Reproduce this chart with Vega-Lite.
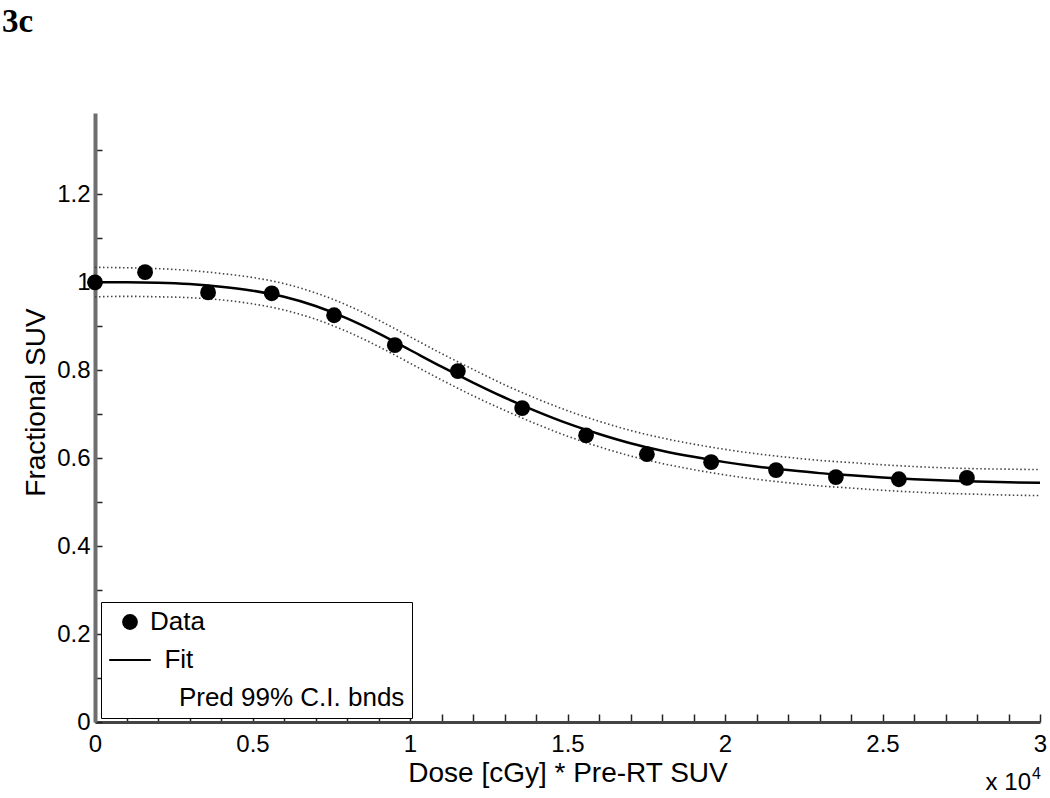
{
  "$schema": "https://vega.github.io/schema/vega-lite/v6.json",
  "width": 945,
  "height": 609,
  "autosize": {"type": "none"},
  "padding": {"left": 95, "top": 113, "right": 10, "bottom": 76},
  "background": "white",
  "config": {"view": {"stroke": null}, "font": "Liberation Sans", "axis": {"labelOverlap": false}},
  "title": {"text": "3c", "font": "Liberation Serif", "fontSize": 33, "fontWeight": "bold", "color": "black", "anchor": "start", "frame": "group", "dx": -93, "offset": 48, "baseline": "alphabetic"},
  "datasets": {
    "points": [
      {"series": "Data", "dose": 0, "suv": 1.0},
      {"series": "Data", "dose": 1590, "suv": 1.023},
      {"series": "Data", "dose": 3590, "suv": 0.977},
      {"series": "Data", "dose": 5610, "suv": 0.975},
      {"series": "Data", "dose": 7590, "suv": 0.925},
      {"series": "Data", "dose": 9520, "suv": 0.857},
      {"series": "Data", "dose": 11520, "suv": 0.798},
      {"series": "Data", "dose": 13560, "suv": 0.714},
      {"series": "Data", "dose": 15590, "suv": 0.652},
      {"series": "Data", "dose": 17520, "suv": 0.609},
      {"series": "Data", "dose": 19560, "suv": 0.591},
      {"series": "Data", "dose": 21620, "suv": 0.573},
      {"series": "Data", "dose": 23520, "suv": 0.557},
      {"series": "Data", "dose": 25520, "suv": 0.552},
      {"series": "Data", "dose": 27680, "suv": 0.555}
    ],
    "curves": [
      {"dose": 0, "fit": 1.000, "upper": 1.034, "lower": 0.967},
      {"dose": 1000, "fit": 1.000, "upper": 1.033, "lower": 0.968},
      {"dose": 2000, "fit": 0.999, "upper": 1.031, "lower": 0.967},
      {"dose": 3000, "fit": 0.996, "upper": 1.027, "lower": 0.965},
      {"dose": 4000, "fit": 0.990, "upper": 1.020, "lower": 0.960},
      {"dose": 5000, "fit": 0.981, "upper": 1.011, "lower": 0.951},
      {"dose": 6000, "fit": 0.967, "upper": 0.997, "lower": 0.937},
      {"dose": 7000, "fit": 0.946, "upper": 0.976, "lower": 0.916},
      {"dose": 8000, "fit": 0.918, "upper": 0.948, "lower": 0.888},
      {"dose": 9000, "fit": 0.884, "upper": 0.914, "lower": 0.854},
      {"dose": 10000, "fit": 0.846, "upper": 0.876, "lower": 0.816},
      {"dose": 11000, "fit": 0.808, "upper": 0.838, "lower": 0.778},
      {"dose": 12000, "fit": 0.772, "upper": 0.802, "lower": 0.742},
      {"dose": 13000, "fit": 0.738, "upper": 0.767, "lower": 0.709},
      {"dose": 14000, "fit": 0.707, "upper": 0.736, "lower": 0.678},
      {"dose": 15000, "fit": 0.679, "upper": 0.708, "lower": 0.650},
      {"dose": 16000, "fit": 0.655, "upper": 0.684, "lower": 0.626},
      {"dose": 17000, "fit": 0.634, "upper": 0.663, "lower": 0.605},
      {"dose": 18000, "fit": 0.617, "upper": 0.646, "lower": 0.588},
      {"dose": 19000, "fit": 0.603, "upper": 0.632, "lower": 0.574},
      {"dose": 20000, "fit": 0.591, "upper": 0.620, "lower": 0.562},
      {"dose": 21000, "fit": 0.581, "upper": 0.610, "lower": 0.552},
      {"dose": 22000, "fit": 0.573, "upper": 0.602, "lower": 0.544},
      {"dose": 23000, "fit": 0.566, "upper": 0.595, "lower": 0.537},
      {"dose": 24000, "fit": 0.561, "upper": 0.590, "lower": 0.532},
      {"dose": 25000, "fit": 0.556, "upper": 0.585, "lower": 0.527},
      {"dose": 26000, "fit": 0.552, "upper": 0.581, "lower": 0.523},
      {"dose": 27000, "fit": 0.549, "upper": 0.578, "lower": 0.520},
      {"dose": 28000, "fit": 0.547, "upper": 0.576, "lower": 0.518},
      {"dose": 29000, "fit": 0.545, "upper": 0.575, "lower": 0.516},
      {"dose": 30000, "fit": 0.544, "upper": 0.574, "lower": 0.515}
    ],
    "notes": [
      {"label": "x 10"}
    ],
    "sup": [
      {"label": "4"}
    ]
  },
  "layer": [
    {
      "data": {"name": "curves"},
      "mark": {"type": "line", "color": "#444", "strokeWidth": 1.6, "strokeDash": [1.5, 2.5], "interpolate": "monotone"},
      "encoding": {
        "x": {
          "field": "dose", "type": "quantitative",
          "scale": {"domain": [0, 30000], "nice": false, "zero": false},
          "axis": {
            "title": "Dose [cGy] * Pre-RT SUV",
            "titleFont": "Liberation Sans", "titleFontSize": 28, "titleFontWeight": "normal", "titleColor": "black",
            "titleBaseline": "alphabetic", "titleY": 59,
            "values": [0,1000,2000,3000,4000,5000,6000,7000,8000,9000,10000,11000,12000,13000,14000,15000,16000,17000,18000,19000,20000,21000,22000,23000,24000,25000,26000,27000,28000,29000,30000],
            "tickCount": 100,
            "labelExpr": "datum.value % 5000 == 0 ? '' + (datum.value / 10000) : ''",
            "labelFont": "Liberation Sans", "labelFontSize": 24, "labelColor": "black",
            "labelFlush": false, "labelOverlap": false, "labelPadding": 18,
            "grid": false,
            "domainColor": "#444", "domainWidth": 3,
            "tickColor": "#222", "tickWidth": 1.5, "tickSize": -8,
            "encode": {"ticks": {"update": {"y2": {"signal": "datum.value % 5000 == 0 ? -8 : -4"}}}}
          }
        },
        "y": {
          "field": "upper", "type": "quantitative",
          "scale": {"domain": [0, 1.385], "nice": false, "zero": false},
          "axis": {
            "title": "Fractional SUV",
            "titleFont": "Liberation Sans", "titleFontSize": 28, "titleFontWeight": "normal", "titleColor": "black",
            "titleAngle": -90, "titleBaseline": "alphabetic", "titleAlign": "center", "titleX": -51, "titleY": 289,
            "values": [0,0.1,0.2,0.3,0.4,0.5,0.6,0.7,0.8,0.9,1,1.1,1.2,1.3],
            "tickCount": 100,
            "labelExpr": "round(datum.value * 10) % 2 == 0 ? '' + datum.value : ''",
            "labelFont": "Liberation Sans", "labelFontSize": 24, "labelColor": "black",
            "labelFlush": false, "labelOverlap": false, "labelPadding": 12,
            "grid": false,
            "domainColor": "#6e6e6e", "domainWidth": 4,
            "tickColor": "#222", "tickWidth": 1.5, "tickSize": -7,
            "encode": {"ticks": {"update": {"x2": {"signal": "round(datum.value * 10) % 2 == 0 ? 7 : 3"}}}}
          }
        }
      }
    },
    {
      "data": {"name": "curves"},
      "mark": {"type": "line", "color": "#444", "strokeWidth": 1.6, "strokeDash": [1.5, 2.5], "interpolate": "monotone"},
      "encoding": {
        "x": {"field": "dose", "type": "quantitative"},
        "y": {"field": "lower", "type": "quantitative"}
      }
    },
    {
      "data": {"name": "curves"},
      "mark": {"type": "line", "color": "black", "strokeWidth": 2.5, "interpolate": "monotone"},
      "encoding": {
        "x": {"field": "dose", "type": "quantitative"},
        "y": {"field": "fit", "type": "quantitative"}
      }
    },
    {
      "data": {"name": "points"},
      "mark": {"type": "point", "filled": true, "color": "black", "opacity": 1, "size": 250},
      "encoding": {
        "x": {"field": "dose", "type": "quantitative"},
        "y": {"field": "suv", "type": "quantitative"},
        "shape": {
          "field": "series", "type": "nominal",
          "scale": {"domain": ["Data", "Fit", "Pred 99% C.I. bnds"], "range": ["circle", "M-2.63,-0.13H2.63V0.13H-2.63Z", "M0,0"]},
          "legend": {
            "title": null, "orient": "none", "legendX": 6, "legendY": 489,
            "strokeColor": "black", "fillColor": "white",
            "padding": 7, "rowPadding": 12, "symbolOffset": 9,
            "symbolSize": 250, "symbolFillColor": "black", "symbolStrokeColor": "black", "symbolStrokeWidth": 0,
            "labelFont": "Liberation Sans", "labelFontSize": 26, "labelColor": "black", "labelOffset": 7, "labelLimit": 400,
            "labelExpr": "datum.label == 'Fit' ? '\u200b\u00a0\u00a0Fit' : (datum.label == 'Data' ? 'Data' : '\u200b\u00a0\u00a0\u00a0\u00a0Pred 99% C.I. bnds')"
          }
        }
      }
    },
    {
      "data": {"name": "notes"},
      "mark": {"type": "text", "font": "Liberation Sans", "fontSize": 24, "color": "black", "align": "right", "baseline": "alphabetic"},
      "encoding": {"text": {"field": "label"}, "x": {"datum": 29714}, "y": {"datum": -0.155}}
    },
    {
      "data": {"name": "sup"},
      "mark": {"type": "text", "font": "Liberation Sans", "fontSize": 16, "color": "black", "align": "left", "baseline": "alphabetic"},
      "encoding": {"text": {"field": "label"}, "x": {"datum": 29746}, "y": {"datum": -0.13}}
    }
  ]
}
